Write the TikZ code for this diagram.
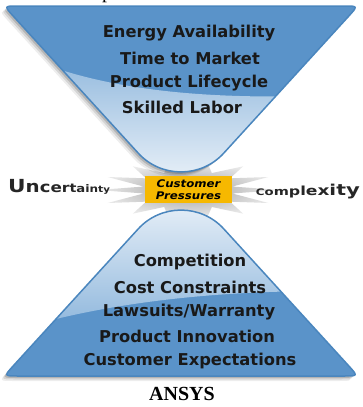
\documentclass[tikz,border=0pt]{standalone}
\usepackage{fontspec}
\setmainfont{Liberation Serif}
\newfontfamily\labelfont{DejaVu Sans}
\usetikzlibrary{calc}

\definecolor{bluemain}{HTML}{5A93C9}
\definecolor{blueedge}{HTML}{4A86BE}
\definecolor{bluelight}{HTML}{E8F0F8}
\definecolor{bluemid}{HTML}{8AB4DB}
\definecolor{pressure}{HTML}{F6B800}

\tikzset{
  item/.style={font=\labelfont\bfseries\fontsize{16.3}{16.3}\selectfont, text=black!90, inner sep=0pt, anchor=center},
  funnel/.style={draw=blueedge, line width=1.5pt},
  shadowlayer/.style={fill=black, opacity=#1},
}

% upper funnel outline: rounded top corners, round neck
\def\upperpath{(18,6) -- (344,6) .. controls (358,6) .. (348.6,16.3) -- (223.8,153.1)
  .. controls (200.9,178.2) and (161.1,178.2) .. (138.2,153.1) -- (13.4,16.3) .. controls (4,6) .. (18,6) -- cycle}
% lower funnel outline, mirrored
\def\lowerpath{(18,376) -- (344,376) .. controls (358,376) .. (348.6,365.7) -- (223.8,228.9)
  .. controls (200.9,203.8) and (161.1,203.8) .. (138.2,228.9) -- (13.4,365.7) .. controls (4,376) .. (18,376) -- cycle}

\newcommand{\fs}[2]{{\fontsize{#1}{#1}\selectfont #2}}

\begin{document}
\begin{tikzpicture}[x=1pt, y=-1pt]
  \useasboundingbox (0,0) rectangle (363,407);
  \fill[white] (0,0) rectangle (363,407);

  % clipped caption descender at the very top
  \begin{scope}
    \clip (0,0) rectangle (363,407);
    \node[font=\fontsize{20}{20}\selectfont, inner sep=0pt, anchor=base] (cap) at (107,-2) {p};
  \end{scope}

  % starburst behind the neck
  \shade[inner color=gray!75, outer color=gray!15]
    (280,190)
    \foreach \a/\r in {10/0.5, 20/0.95, 32/0.55, 44/0.85, 58/0.5, 74/0.75, 90/0.5, 106/0.75, 122/0.5, 136/0.85, 148/0.55, 160/0.95, 170/0.5, 180/1.0, 190/0.5, 200/0.95, 212/0.55, 224/0.85, 238/0.5, 254/0.75, 270/0.5, 286/0.75, 302/0.5, 316/0.85, 328/0.55, 340/0.95, 350/0.5}
      { -- ($(188,190)+({\r*90*cos(\a)},{-\r*40*sin(\a)})$) }
    -- cycle;

  % soft shadows of the funnels
  \foreach \o/\op in {5/0.07, 3.5/0.1, 2/0.15} {
    \begin{scope}[shift={(-\o,\o)}]
      \fill[shadowlayer=\op] \upperpath;
      \fill[shadowlayer=\op] \lowerpath;
    \end{scope}
  }

  % upper funnel body with gloss
  \begin{scope}
    \clip \upperpath;
    \fill[bluemain] (0,0) rectangle (363,200);
    \shade[top color=bluemid, bottom color=bluelight]
      (0,45) .. controls (90,92) and (210,102) .. (363,94) -- (363,180) -- (0,180) -- cycle;
  \end{scope}
  \draw[funnel] \upperpath;

  % lower funnel body with gloss
  \begin{scope}
    \clip \lowerpath;
    \fill[bluemain] (0,200) rectangle (363,380);
    \shade[top color=bluelight, bottom color=bluemid]
      (0,200) -- (363,200) -- (363,292) .. controls (250,288) and (110,298) .. (0,335) -- cycle;
  \end{scope}
  \draw[funnel] \lowerpath;

  % centre box
  \node[fill=pressure, minimum width=87pt, minimum height=27pt, inner sep=0pt, align=center,
        font=\labelfont\bfseries\itshape\fontsize{10.5}{11.5}\selectfont] (press) at (188.5,189.5)
    {\scalebox{1.12}[1]{Customer}\\\scalebox{1.12}[1]{Pressures}};

  % side words in perspective
  \node[font=\labelfont\bfseries, text=black!85, inner sep=0pt, anchor=base west] (unc) at (8,192)
    {\scalebox{1.2}[1]{\fs{18}{U}\fs{16.5}{n}\fs{15}{c}\fs{14}{e}\fs{13}{r}\fs{12}{t}\fs{11}{a}\fs{10.5}{i}\fs{10}{n}\fs{9}{t}\fs{8.5}{y}}};
  \node[font=\labelfont\bfseries, text=black!85, inner sep=0pt, anchor=base east] (cpx) at (360,195)
    {\scalebox{1.32}[1]{\fs{9}{C}\fs{10}{o}\fs{11}{m}\fs{12}{p}\fs{12.5}{l}\fs{13}{e}\fs{14}{x}\fs{15}{i}\fs{15.5}{t}\fs{16}{y}}};

  % upper list
  \node[item] (t1) at (189,33) {Energy Availability};
  \node[item] (t2) at (190,58) {Time to Market};
  \node[item] (t3) at (189,83) {Product Lifecycle};
  \node[item] (t4) at (182,107) {Skilled Labor};

  % lower list
  \node[item] (b1) at (190,262) {Competition};
  \node[item] (b2) at (190,287) {Cost Constraints};
  \node[item] (b3) at (189,312) {Lawsuits/Warranty};
  \node[item] (b4) at (187,336) {Product Innovation};
  \node[item] (b5) at (190,361) {Customer Expectations};

  % brand
  \node[font=\bfseries\fontsize{20}{20}\selectfont, inner sep=0pt] (brand) at (182,394) {ANSYS};
\end{tikzpicture}
\end{document}
